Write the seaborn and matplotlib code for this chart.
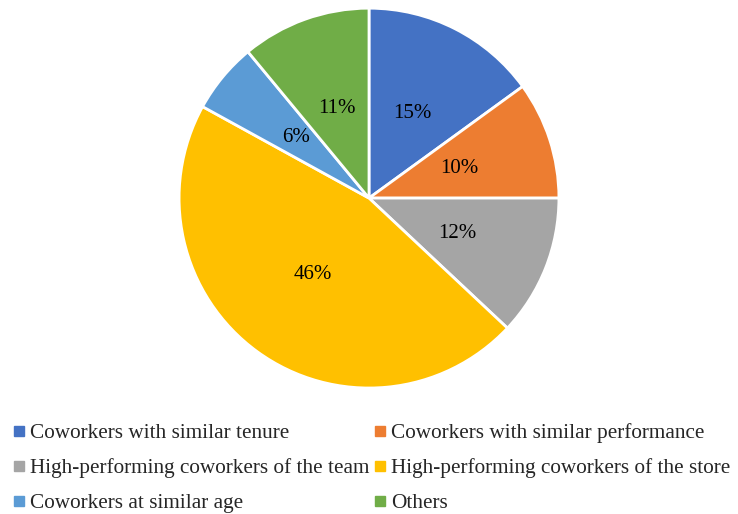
import matplotlib
matplotlib.use("Agg")
import seaborn as sns
import matplotlib.pyplot as plt
from matplotlib.lines import Line2D

# === data ===
categories = [
    "Coworkers with similar tenure",
    "Coworkers with similar performance",
    "High-performing coworkers of the team",
    "High-performing coworkers of the store",
    "Coworkers at similar age",
    "Others",
]
shares = [15, 10, 12, 46, 6, 11]
colors = ["#4472C4", "#ED7D31", "#A5A5A5", "#FFC000", "#5B9BD5", "#70AD47"]

# === style ===
sns.set_theme(style="white")
plt.rcParams["font.family"] = ["Liberation Serif", "DejaVu Serif"]

fig = plt.figure(figsize=(7.38, 5.14), dpi=100)
ax = fig.add_axes([0.2425, 0.2451, 0.515, 0.739])

wedges, texts, autotexts = ax.pie(
    shares,
    colors=colors,
    startangle=90,
    counterclock=False,
    autopct=lambda p: f"{p:.0f}%",
    pctdistance=0.5,
    wedgeprops=dict(edgecolor="white", linewidth=2),
    textprops=dict(fontsize=15, color="black"),
)
ax.set_xlim(-1, 1)
ax.set_ylim(-1, 1)
ax.set_aspect("equal")
ax.axis("off")

# legend: two columns, filled row by row like Excel
handles = [Line2D([0], [0], marker="s", linestyle="none", markersize=6.5,
                  markerfacecolor=c, markeredgecolor=c) for c in colors]
order = [0, 2, 4, 1, 3, 5]
fig.legend([handles[i] for i in order], [categories[i] for i in order],
           loc="center", bbox_to_anchor=(0.504, 0.089), ncol=2,
           frameon=False, fontsize=15.3, handlelength=0.5, handletextpad=0.3,
           columnspacing=0.2, labelspacing=0.7)

fig.savefig("out.png", dpi=100)
